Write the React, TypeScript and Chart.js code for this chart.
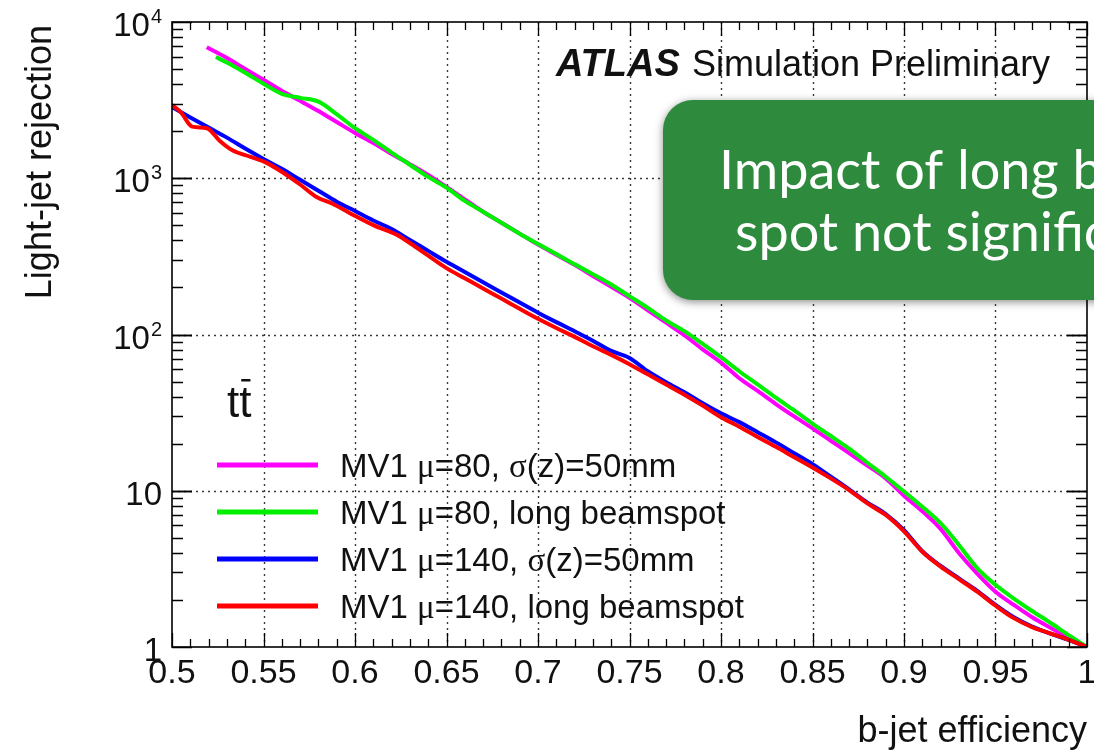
import React, { useEffect, useRef } from 'react';
import { Chart, registerables } from 'chart.js';

Chart.register(...registerables);

const SANS = '"Liberation Sans", Arial, Helvetica, sans-serif';
const SERIF = '"Liberation Serif", "Times New Roman", serif';

// MV1, mu=80, sigma(z)=50mm
const mu80SigmaEff = [0.519, 0.53, 0.54, 0.55, 0.56, 0.57, 0.58, 0.59, 0.6, 0.61, 0.62, 0.63, 0.64, 0.65, 0.66, 0.67, 0.68, 0.69, 0.7, 0.71, 0.72, 0.73, 0.74, 0.75, 0.76, 0.77, 0.78, 0.79, 0.8, 0.81, 0.82, 0.83, 0.84, 0.85, 0.86, 0.87, 0.88, 0.89, 0.9, 0.91, 0.92, 0.93, 0.94, 0.95, 0.96, 0.97, 0.98, 0.99, 1.0];
const mu80SigmaRej = [6900, 5890, 5010, 4270, 3630, 3130, 2690, 2290, 1950, 1680, 1430, 1230, 1050, 880, 733, 610, 519, 442, 376, 324, 279, 237, 202, 172, 143, 119, 99, 80.4, 66.1, 52.5, 43.6, 35.9, 29.9, 25.1, 20.9, 17.4, 14.5, 12.0, 9.3, 7.4, 5.7, 4.0, 2.95, 2.26, 1.86, 1.55, 1.33, 1.15, 1.0];

// MV1, mu=80, long beamspot
const mu80LongEff = [0.524, 0.53, 0.54, 0.55, 0.56, 0.57, 0.58, 0.59, 0.6, 0.61, 0.62, 0.63, 0.64, 0.65, 0.66, 0.67, 0.68, 0.69, 0.7, 0.71, 0.72, 0.73, 0.74, 0.75, 0.76, 0.77, 0.78, 0.79, 0.8, 0.81, 0.82, 0.83, 0.84, 0.85, 0.86, 0.87, 0.88, 0.89, 0.9, 0.91, 0.92, 0.93, 0.94, 0.95, 0.96, 0.97, 0.98, 0.99, 1.0];
const mu80LongRej = [5970, 5500, 4730, 4030, 3470, 3270, 3090, 2570, 2090, 1760, 1460, 1220, 1020, 871, 716, 610, 519, 442, 380, 327, 282, 243, 209, 176, 148, 123, 105, 87.1, 71.6, 58.2, 47.9, 39.4, 32.7, 26.9, 22.4, 18.6, 15.1, 12.3, 9.9, 7.9, 6.2, 4.5, 3.2, 2.5, 2.04, 1.7, 1.43, 1.19, 1.0];

// MV1, mu=140, sigma(z)=50mm
const mu140SigmaEff = [0.5, 0.51, 0.52, 0.53, 0.54, 0.55, 0.56, 0.57, 0.58, 0.59, 0.6, 0.61, 0.62, 0.63, 0.64, 0.65, 0.66, 0.67, 0.68, 0.69, 0.7, 0.71, 0.72, 0.73, 0.74, 0.75, 0.76, 0.77, 0.78, 0.79, 0.8, 0.81, 0.82, 0.83, 0.84, 0.85, 0.86, 0.87, 0.88, 0.89, 0.9, 0.91, 0.92, 0.93, 0.94, 0.95, 0.96, 0.97, 0.98, 0.99, 1.0];
const mu140SigmaRej = [2860, 2450, 2110, 1820, 1550, 1330, 1150, 977, 832, 708, 617, 537, 473, 403, 343, 292, 251, 216, 186, 160, 138, 120, 105, 91.2, 78.5, 70.8, 58.2, 49.5, 42.7, 36.3, 31.3, 27.5, 23.7, 20.4, 17.4, 14.8, 12.3, 10.2, 8.4, 7.1, 5.6, 4.1, 3.3, 2.75, 2.29, 1.86, 1.55, 1.35, 1.22, 1.11, 1.0];

// MV1, mu=140, long beamspot
const mu140LongEff = [0.5, 0.505, 0.511, 0.519, 0.526, 0.533, 0.543, 0.552, 0.561, 0.57, 0.579, 0.588, 0.597, 0.61, 0.623, 0.63, 0.64, 0.65, 0.66, 0.67, 0.68, 0.69, 0.7, 0.71, 0.72, 0.73, 0.74, 0.75, 0.76, 0.77, 0.78, 0.79, 0.8, 0.81, 0.82, 0.83, 0.84, 0.85, 0.86, 0.87, 0.88, 0.89, 0.9, 0.91, 0.92, 0.93, 0.94, 0.95, 0.96, 0.97, 0.98, 0.99, 1.0];
const mu140LongRej = [2940, 2630, 2140, 2090, 1740, 1510, 1370, 1250, 1080, 912, 759, 684, 600, 501, 434, 385, 320, 266, 229, 197, 170, 146, 126, 110, 96.6, 84.1, 74.1, 64.6, 55.6, 47.9, 41.2, 35.1, 29.5, 25.7, 22.1, 19.1, 16.4, 14.1, 12.0, 10.1, 8.3, 7.0, 5.5, 4.07, 3.27, 2.72, 2.26, 1.84, 1.53, 1.34, 1.22, 1.11, 1.0];

const seriesLabels = [
  'MV1 μ=80, σ(z)=50mm',
  'MV1 μ=80, long beamspot',
  'MV1 μ=140, σ(z)=50mm',
  'MV1 μ=140, long beamspot',
];
const seriesColors = ['#ff00ff', '#00f000', '#0000ff', '#ff0000'];

const xMajorTicks = [0.5, 0.55, 0.6, 0.65, 0.7, 0.75, 0.8, 0.85, 0.9, 0.95, 1.0];
const xTickLabels = ['0.5', '0.55', '0.6', '0.65', '0.7', '0.75', '0.8', '0.85', '0.9', '0.95', '1'];
const yMajorTicks = [1, 10, 100, 1000, 10000];
const yTickBase = ['1', '10', '10', '10', '10'];
const yTickExp = ['', '', '2', '3', '4'];

const xTitle = 'b-jet efficiency';
const yTitle = 'Light-jet rejection';
const sampleLabel = 'tt';
const boxLines = ['Impact of long beam', 'spot not significant'];

// draws a label whose Greek letters use a serif face
function drawMixed(ctx: CanvasRenderingContext2D, text: string, x: number, y: number, size: number) {
  let cx = x;
  for (const ch of text) {
    ctx.font = `${size}px ${/[μσ]/.test(ch) ? SERIF : SANS}`;
    ctx.fillText(ch, cx, y);
    cx += ctx.measureText(ch).width;
  }
}

const rootFrame = {
  id: 'rootFrame',
  beforeDatasetsDraw(chart: any) {
    const { ctx, chartArea: a, scales } = chart;
    const x = scales.x;
    const y = scales.y;
    ctx.save();
    ctx.strokeStyle = '#3a3a3a';
    ctx.lineWidth = 1.4;
    ctx.setLineDash([2, 4]);
    for (const v of xMajorTicks.slice(1, -1)) {
      const px = Math.round(x.getPixelForValue(v)) + 0.5;
      ctx.beginPath();
      ctx.moveTo(px, a.top);
      ctx.lineTo(px, a.bottom);
      ctx.stroke();
    }
    for (const v of yMajorTicks.slice(1, -1)) {
      const py = Math.round(y.getPixelForValue(v)) + 0.5;
      ctx.beginPath();
      ctx.moveTo(a.left, py);
      ctx.lineTo(a.right, py);
      ctx.stroke();
    }
    ctx.restore();
  },
  afterDatasetsDraw(chart: any) {
    const { ctx, chartArea: a, scales } = chart;
    const x = scales.x;
    const y = scales.y;
    ctx.save();
    ctx.setLineDash([]);
    ctx.strokeStyle = '#000';
    ctx.lineWidth = 1.6;
    ctx.strokeRect(a.left, a.top, a.right - a.left, a.bottom - a.top);

    // x ticks, bottom and top, pointing inward
    ctx.lineWidth = 1.3;
    for (let i = 0; i <= 50; i++) {
      const v = 0.5 + i * 0.01;
      const px = Math.round(x.getPixelForValue(v)) + 0.5;
      const len = i % 5 === 0 ? 14 : 8;
      ctx.beginPath();
      ctx.moveTo(px, a.bottom);
      ctx.lineTo(px, a.bottom - len);
      ctx.moveTo(px, a.top);
      ctx.lineTo(px, a.top + len);
      ctx.stroke();
    }
    // y ticks, left and right, pointing inward
    for (const d of [1, 10, 100, 1000]) {
      for (let m = 1; m <= 10; m++) {
        const v = d * m;
        const py = Math.round(y.getPixelForValue(v)) + 0.5;
        const len = m === 1 || m === 10 ? 20 : 11;
        ctx.beginPath();
        ctx.moveTo(a.left, py);
        ctx.lineTo(a.left + len, py);
        ctx.moveTo(a.right, py);
        ctx.lineTo(a.right - len, py);
        ctx.stroke();
      }
    }

    ctx.fillStyle = '#111';
    // x tick labels
    ctx.font = `34px ${SANS}`;
    ctx.textAlign = 'center';
    ctx.textBaseline = 'alphabetic';
    xMajorTicks.forEach((v, i) => {
      ctx.fillText(xTickLabels[i], x.getPixelForValue(v), a.bottom + 36);
    });
    // y tick labels with exponents
    ctx.textAlign = 'left';
    yMajorTicks.forEach((v, i) => {
      const py = y.getPixelForValue(v);
      ctx.font = `20px ${SANS}`;
      const ew = yTickExp[i] ? ctx.measureText(yTickExp[i]).width : 0;
      ctx.font = `33px ${SANS}`;
      const bw = ctx.measureText(yTickBase[i]).width;
      const right = a.left - 10;
      ctx.fillText(yTickBase[i], right - ew - bw - (ew ? 1 : 0), py + 14);
      if (yTickExp[i]) {
        ctx.font = `20px ${SANS}`;
        ctx.fillText(yTickExp[i], right - ew, py + 1);
      }
    });

    // axis titles
    ctx.font = `36px ${SANS}`;
    ctx.textAlign = 'right';
    ctx.fillText(xTitle, a.right, 742);
    ctx.save();
    ctx.translate(51, a.top + 3);
    ctx.rotate(-Math.PI / 2);
    ctx.fillText(yTitle, 0, 0);
    ctx.restore();

    // experiment label
    ctx.textAlign = 'left';
    ctx.font = `italic bold 38px ${SANS}`;
    ctx.fillText('ATLAS', 556, 76);
    ctx.font = `36px ${SANS}`;
    ctx.fillText('Simulation Preliminary', 692, 76);

    // sample label
    ctx.font = `44px ${SANS}`;
    ctx.fillText(sampleLabel, 227, 417);
    const tW = ctx.measureText('t').width;
    ctx.fillRect(227 + tW + 2, 379, tW - 3, 2.5);

    // legend
    const rows = [465, 512, 559, 606];
    seriesLabels.forEach((lab, i) => {
      ctx.strokeStyle = seriesColors[i];
      ctx.lineWidth = 5;
      ctx.beginPath();
      ctx.moveTo(217, rows[i]);
      ctx.lineTo(318, rows[i]);
      ctx.stroke();
      ctx.fillStyle = '#111';
      drawMixed(ctx, lab, 340, rows[i] + 12, 33);
    });

    // annotation box
    ctx.save();
    ctx.shadowColor = 'rgba(0,0,0,0.45)';
    ctx.shadowBlur = 8;
    ctx.shadowOffsetY = 2;
    ctx.fillStyle = '#2e8b3d';
    ctx.beginPath();
    ctx.roundRect(663, 100, 500, 200, 30);
    ctx.fill();
    ctx.restore();
    ctx.fillStyle = '#ffffff';
    ctx.font = `54px Lato, "Open Sans", sans-serif`;
    ctx.textAlign = 'left';
    ctx.fillText(boxLines[0], 719, 189);
    ctx.fillText(boxLines[1], 735, 251);
    ctx.restore();
  },
};

export default function App() {
  const ref = useRef<HTMLCanvasElement>(null);
  useEffect(() => {
    const effs = [mu80SigmaEff, mu80LongEff, mu140SigmaEff, mu140LongEff];
    const rejs = [mu80SigmaRej, mu80LongRej, mu140SigmaRej, mu140LongRej];
    const chart = new Chart(ref.current as HTMLCanvasElement, {
      type: 'line',
      data: {
        datasets: seriesLabels.map((label, i) => ({
          label,
          data: effs[i].map((e, j) => ({ x: e, y: rejs[i][j] })),
          borderColor: seriesColors[i],
          borderWidth: 4,
          pointRadius: 0,
          fill: false,
          cubicInterpolationMode: 'monotone' as const,
          order: 4 - i,
        })),
      },
      options: {
        responsive: false,
        animation: false,
        devicePixelRatio: 1,
        layout: { padding: { top: 22, right: 7, left: 0, bottom: 0 } },
        plugins: { legend: { display: false }, tooltip: { enabled: false } },
        scales: {
          x: {
            type: 'linear',
            min: 0.5,
            max: 1,
            grid: { display: false },
            border: { display: false },
            ticks: { display: false },
            afterFit: (s: any) => { s.height = 107; },
          },
          y: {
            type: 'logarithmic',
            min: 1,
            max: 10000,
            grid: { display: false },
            border: { display: false },
            ticks: { display: false },
            afterFit: (s: any) => { s.width = 172; },
          },
        },
      },
      plugins: [rootFrame],
    } as any);
    return () => chart.destroy();
  }, []);
  return (
    <div style={{ position: 'fixed', left: 0, top: 0, width: 1094, height: 754, background: '#fff', overflow: 'hidden' }}>
      <canvas ref={ref} width={1094} height={754} style={{ display: 'block' }} />
    </div>
  );
}
